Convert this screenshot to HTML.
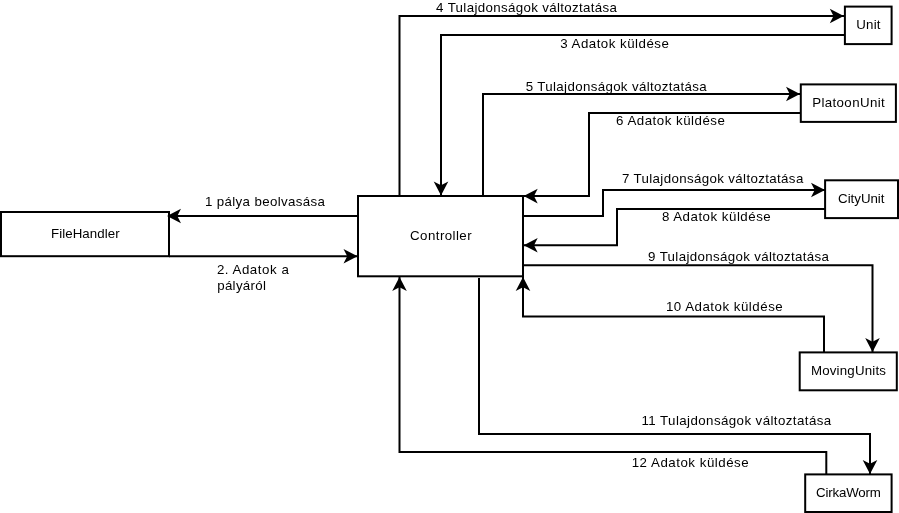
<!DOCTYPE html>
<html><head><meta charset="utf-8"><style>
html,body{margin:0;padding:0;background:#fff;width:899px;height:513px;overflow:hidden}
svg{position:absolute;left:0;top:0;display:block}
text{font-family:"Liberation Sans",sans-serif;font-size:12.5px;fill:#000}
svg{filter:grayscale(1)}
</style></head><body>
<svg width="899" height="513" viewBox="0 0 899 513">
<rect x="0" y="0" width="899" height="513" fill="#fff"/>
<g fill="#fff" stroke="#000" stroke-width="2">
<rect x="1.00" y="212.00" width="168.00" height="44.20"/>
<rect x="358.00" y="196.00" width="165.00" height="80.30"/>
<rect x="844.90" y="6.60" width="46.70" height="37.50"/>
<rect x="800.80" y="84.40" width="95.10" height="37.50"/>
<rect x="825.10" y="180.30" width="72.90" height="37.80"/>
<rect x="799.70" y="352.40" width="97.10" height="37.90"/>
<rect x="805.20" y="474.40" width="86.40" height="37.60"/>
</g>
<g fill="none" stroke="#000" stroke-width="2" stroke-linejoin="miter" stroke-linecap="butt">
<polyline points="358.00,216.00 169.00,216.00"/>
<polyline points="169.00,256.20 358.00,256.20"/>
<polyline points="399.50,196.00 399.50,16.00 845.00,16.00"/>
<polyline points="845.00,35.00 441.00,35.00 441.00,196.00"/>
<polyline points="483.00,196.00 483.00,94.00 801.00,94.00"/>
<polyline points="801.00,113.00 589.00,113.00 589.00,196.00 523.00,196.00"/>
<polyline points="523.00,216.00 603.00,216.00 603.00,190.00 825.40,190.00"/>
<polyline points="825.40,209.00 617.00,209.00 617.00,245.20 523.00,245.20"/>
<polyline points="523.00,265.30 872.50,265.30 872.50,352.40"/>
<polyline points="824.00,352.40 824.00,316.50 523.00,316.50 523.00,276.00"/>
<polyline points="479.00,278.00 479.00,434.00 870.00,434.00 870.00,474.40"/>
<polyline points="826.30,474.40 826.30,452.00 399.50,452.00 399.50,276.00"/>
</g>
<g fill="#000" stroke="none">
<polygon points="167.00,216.00 181.00,208.70 177.30,216.00 181.00,223.30"/>
<polygon points="357.50,256.20 343.50,263.50 347.20,256.20 343.50,248.90"/>
<polygon points="843.80,16.00 829.80,23.30 833.50,16.00 829.80,8.70"/>
<polygon points="441.00,195.50 433.70,181.50 441.00,185.20 448.30,181.50"/>
<polygon points="800.00,94.00 786.00,101.30 789.70,94.00 786.00,86.70"/>
<polygon points="523.70,196.10 537.70,188.80 534.00,196.10 537.70,203.40"/>
<polygon points="825.00,190.00 811.00,197.30 814.70,190.00 811.00,182.70"/>
<polygon points="523.70,245.20 537.70,237.90 534.00,245.20 537.70,252.50"/>
<polygon points="872.50,352.00 865.20,338.00 872.50,341.70 879.80,338.00"/>
<polygon points="523.00,277.00 530.30,291.00 523.00,287.30 515.70,291.00"/>
<polygon points="870.00,474.00 862.70,460.00 870.00,463.70 877.30,460.00"/>
<polygon points="399.50,277.00 406.80,291.00 399.50,287.30 392.20,291.00"/>
</g>
<g class="t">
<text transform="translate(436.10,11.60) scale(1.065,1)" x="0" y="0" textLength="169.86" lengthAdjust="spacing">4 Tulajdonságok változtatása</text>
<text transform="translate(560.20,47.60) scale(1.065,1)" x="0" y="0" textLength="102.07" lengthAdjust="spacing">3 Adatok küldése</text>
<text transform="translate(525.80,91.00) scale(1.065,1)" x="0" y="0" textLength="169.86" lengthAdjust="spacing">5 Tulajdonságok változtatása</text>
<text transform="translate(616.10,124.90) scale(1.065,1)" x="0" y="0" textLength="102.16" lengthAdjust="spacing">6 Adatok küldése</text>
<text transform="translate(621.90,183.20) scale(1.065,1)" x="0" y="0" textLength="170.33" lengthAdjust="spacing">7 Tulajdonságok változtatása</text>
<text transform="translate(661.90,220.90) scale(1.065,1)" x="0" y="0" textLength="102.16" lengthAdjust="spacing">8 Adatok küldése</text>
<text transform="translate(648.10,261.00) scale(1.065,1)" x="0" y="0" textLength="169.86" lengthAdjust="spacing">9 Tulajdonságok változtatása</text>
<text transform="translate(665.90,311.10) scale(1.065,1)" x="0" y="0" textLength="109.67" lengthAdjust="spacing">10 Adatok küldése</text>
<text transform="translate(641.50,425.10) scale(1.065,1)" x="0" y="0" textLength="178.12" lengthAdjust="spacing">11 Tulajdonságok változtatása</text>
<text transform="translate(631.70,466.90) scale(1.065,1)" x="0" y="0" textLength="109.86" lengthAdjust="spacing">12 Adatok küldése</text>
<text transform="translate(205.00,205.90) scale(1.065,1)" x="0" y="0" textLength="112.58" lengthAdjust="spacing">1 pálya beolvasása</text>
<text transform="translate(216.90,273.90) scale(1.065,1)" x="0" y="0" textLength="67.51" lengthAdjust="spacing">2. Adatok a</text>
<text transform="translate(217.20,289.70) scale(1.065,1)" x="0" y="0" textLength="45.82" lengthAdjust="spacing">pályáról</text>
<text transform="translate(51.10,237.80) scale(1.065,1)" x="0" y="0" textLength="64.32" lengthAdjust="spacing">FileHandler</text>
<text transform="translate(410.10,239.80) scale(1.065,1)" x="0" y="0" textLength="57.75" lengthAdjust="spacing">Controller</text>
<text transform="translate(856.20,28.80) scale(1.065,1)" x="0" y="0" textLength="22.82" lengthAdjust="spacing">Unit</text>
<text transform="translate(812.20,106.50) scale(1.065,1)" x="0" y="0" textLength="68.08" lengthAdjust="spacing">PlatoonUnit</text>
<text transform="translate(838.10,202.90) scale(1.065,1)" x="0" y="0" textLength="43.57" lengthAdjust="spacing">CityUnit</text>
<text transform="translate(810.90,374.70) scale(1.065,1)" x="0" y="0" textLength="70.52" lengthAdjust="spacing">MovingUnits</text>
<text transform="translate(816.10,496.90) scale(1.065,1)" x="0" y="0" textLength="60.85" lengthAdjust="spacing">CirkaWorm</text>
</g>
</svg>
</body></html>
